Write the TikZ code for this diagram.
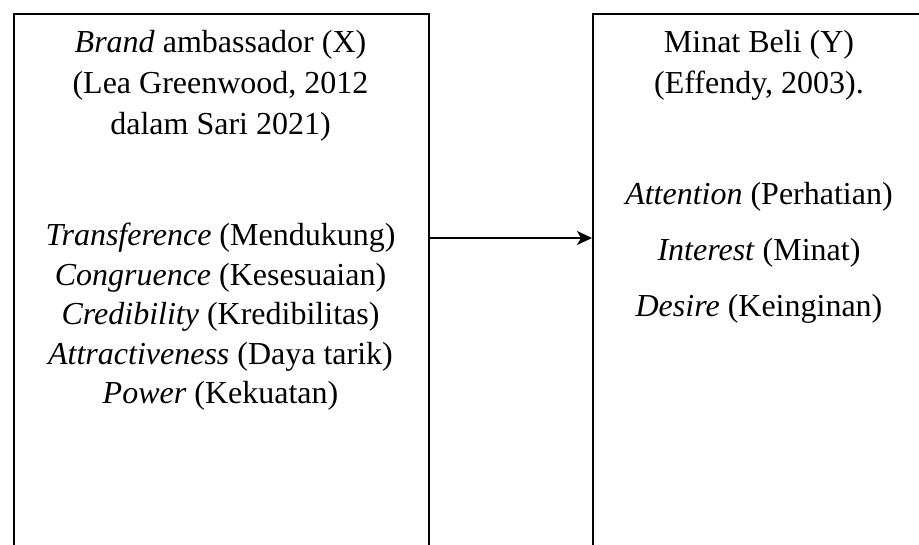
\documentclass[tikz,border=0pt]{standalone}
\usepackage{fontspec}
\setmainfont{Liberation Serif}
\usetikzlibrary{arrows.meta}
\begin{document}
\begin{tikzpicture}[x=1pt,y=-1pt,
  box/.style={draw=black,line width=1.7pt,inner sep=0pt,anchor=north west},
  txt/.style={inner sep=0pt,anchor=base,font=\fontsize{32}{38}\selectfont},
  conn/.style={line width=2pt,-{Stealth[length=15pt,width=14pt,inset=4pt]}}]
\useasboundingbox (0,0) rectangle (919,544);
\clip (0,0) rectangle (919,544);
\fill[white] (0,0) rectangle (919,544);
\node[box,minimum width=415pt,minimum height=560pt] (L) at (13,13) {};
\node[box,minimum width=334pt,minimum height=560pt] (R) at (592,13) {};
% left texts
\node[txt] (l1) at (220.5,52) {\textit{Brand} ambassador (X)};
\node[txt] (l2) at (220.5,93) {(Lea Greenwood, 2012};
\node[txt] (l3) at (220.5,134) {dalam Sari 2021)};
\node[txt] (l4) at (220.5,245) {\textit{Transference} (Mendukung)};
\node[txt] (l5) at (220.5,285) {\textit{Congruence} (Kesesuaian)};
\node[txt] (l6) at (220.5,324.5) {\textit{Credibility} (Kredibilitas)};
\node[txt] (l7) at (220.5,364) {\textit{Attractiveness} (Daya tarik)};
\node[txt] (l8) at (220.5,403) {\textit{Power} (Kekuatan)};
% right texts
\node[txt] (r1) at (759,52) {Minat Beli (Y)};
\node[txt] (r2) at (759,93) {(Effendy, 2003).};
\node[txt] (r3) at (759,204) {\textit{Attention} (Perhatian)};
\node[txt] (r4) at (759,260.5) {\textit{Interest} (Minat)};
\node[txt] (r5) at (759,316.5) {\textit{Desire} (Keinginan)};
% connector
\coordinate (ay) at (0,238);
\draw[conn] (L.east |- ay) -- (R.west |- ay);
\end{tikzpicture}
\end{document}
